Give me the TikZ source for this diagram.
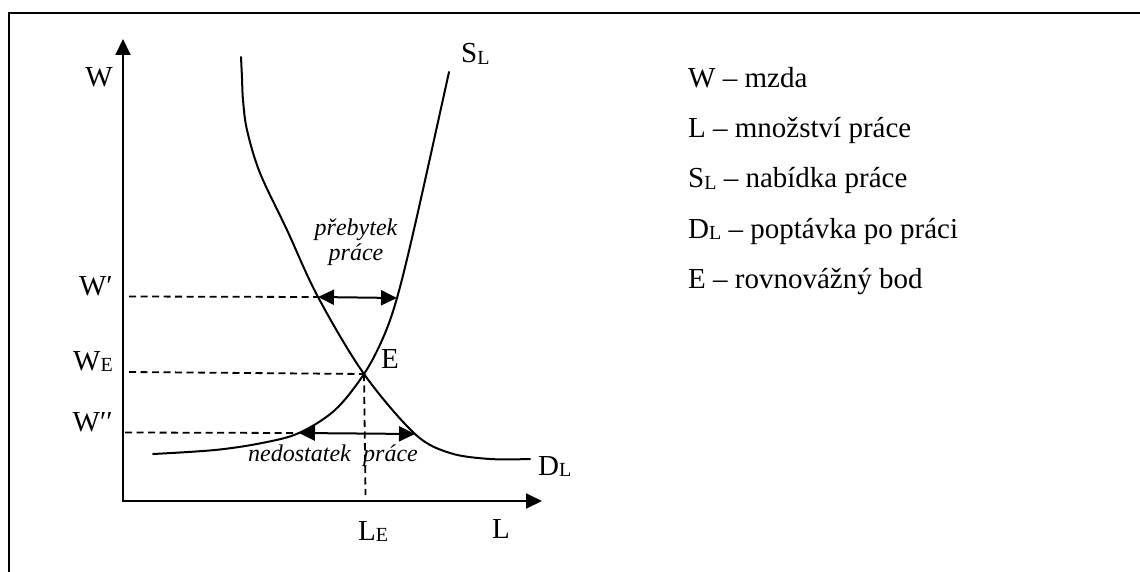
\documentclass[tikz,border=0pt]{standalone}
\usepackage{fontspec}
\setmainfont{Liberation Serif}
\usetikzlibrary{arrows.meta}

\newcommand{\lmIdx}[1]{\raisebox{-1.5pt}{\fontsize{20}{20}\selectfont #1}}

\begin{document}
\begin{tikzpicture}[x=1pt, y=-1pt]
% Labour market diagram, coordinates in pixels from the top left corner
\providecommand{\lmLineWidth}{2pt}
\providecommand{\lmDashWidth}{1.8pt}
\providecommand{\lmFrameWidth}{2.8pt}
\tikzset{
  lbl/.style={inner sep=0pt, font=\fontsize{29}{34}\selectfont},
  note/.style={inner sep=0pt, font=\fontsize{24}{26}\selectfont\itshape},
  curve/.style={line width=\lmLineWidth, line cap=round, line join=round},
  guide/.style={line width=\lmDashWidth, dash pattern=on 7pt off 4.5pt},
  axis/.style={line width=\lmLineWidth, {Triangle[width=15pt,length=16pt]}-{Triangle[width=15pt,length=16pt]}},
  gap/.style={line width=\lmLineWidth, {Triangle[width=15pt,length=16pt]}-{Triangle[width=15pt,length=16pt]}},
}
\useasboundingbox (0,0) rectangle (1140,572);
% Frame (top and left side only)
\draw[line width=\lmFrameWidth] (9,572) -- (9,13) -- (1140,13);
% Axes
\coordinate (wtop) at (123,39);
\coordinate (orig) at (123,501);
\coordinate (lend) at (542,501);
\draw[axis] (wtop) -- (orig) -- (lend);
% Key points
\coordinate (eq) at (364,374);
\coordinate (sur1) at (318,297);
\coordinate (sur2) at (397,298);
\coordinate (sho1) at (299,433);
\coordinate (sho2) at (415,434);
\coordinate (dwp) at (129,296.5);
\coordinate (dwe) at (129,372);
\coordinate (dwpp) at (125,432.5);
\coordinate (dle) at (365.5,495);
% Supply curve S_L
\draw[curve] plot[smooth, tension=0.55] coordinates {(153,454) (215,450) (262,443) (299,433) (335,410) (364,374) (383,338) (397,298) (415,225) (449,72)};
% Demand curve D_L
\draw[curve] plot[smooth, tension=0.55] coordinates {(241,57) (242,78) (243,100) (247,130) (260,173) (287,230) (318,297) (364,374) (415,434) (450,453) (490,459) (530,459)};
% Guide lines
\draw[guide] (dwp) -- (sur1);
\draw[guide] (dwe) -- (eq);
\draw[guide] (dwpp) -- (sho1);
\draw[guide] (eq) -- (dle);
% Surplus and shortage
\draw[gap] (sur1) -- (sur2);
\draw[gap] (sho1) -- (sho2);
% Axis labels
\node[lbl, anchor=base] (w) at (99,87) {W};
\node[lbl, anchor=base west] (sl) at (461,63) {S\lmIdx{L}};
\node[lbl, anchor=base east] (wp) at (113,295) {W′};
\node[lbl, anchor=base east] (we) at (113,370) {W\lmIdx{E}};
\node[lbl, anchor=base east] (wpp) at (113,431) {W′′};
\node[lbl, anchor=base] (e) at (390,368) {E};
\node[lbl, anchor=base west] (le) at (358,540) {L\lmIdx{E}};
\node[lbl, anchor=base west] (l) at (492,538) {L};
\node[lbl, anchor=base west] (dl) at (538,475) {D\lmIdx{L}};
% Notes
\node[note, anchor=base] (surplus) at (356,235) {přebytek};
\node[note, anchor=base] (surplus2) at (356,260) {práce};
\node[note, anchor=base west] (shortage) at (248,461.5) {nedostatek};
\node[note, anchor=base west] (shortage2) at (363,461.5) {práce};
% Legend
\node[lbl, anchor=base west] (leg1) at (688,88) {W – mzda};
\node[lbl, anchor=base west] (leg2) at (688,138) {L – množství práce};
\node[lbl, anchor=base west] (leg3) at (688,188) {S\lmIdx{L} – nabídka práce};
\node[lbl, anchor=base west] (leg4) at (688,238) {D\lmIdx{L} – poptávka po práci};
\node[lbl, anchor=base west] (leg5) at (688,288) {E – rovnovážný bod};
\end{tikzpicture}
\end{document}
